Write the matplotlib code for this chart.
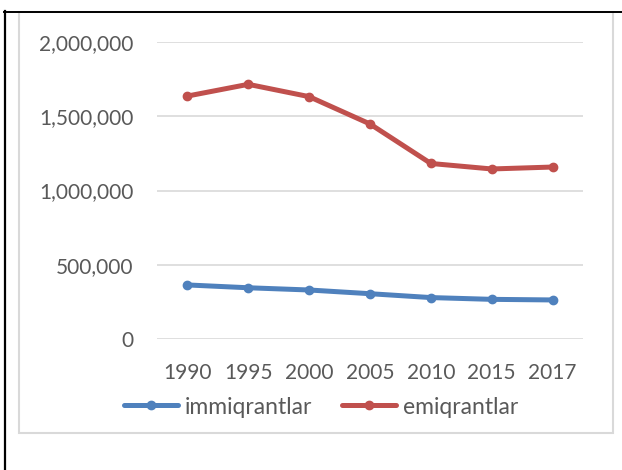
import matplotlib
matplotlib.use("Agg")
import matplotlib.pyplot as plt
from matplotlib.lines import Line2D
from matplotlib.patches import Rectangle
from matplotlib.ticker import FuncFormatter

# data
years = ['1990', '1995', '2000', '2005', '2010', '2015', '2017']
immigrants = [364000, 345000, 330000, 305000, 279000, 267000, 263000]
emigrants = [1636000, 1715000, 1632000, 1448000, 1182000, 1145000, 1158000]
series_names = ['immiqrantlar', 'emiqrantlar']

plt.rcParams['font.family'] = ['Lato', 'DejaVu Sans']
text_col = '#595959'

fig = plt.figure(figsize=(6.22, 4.70), dpi=100)
ax = fig.add_axes([157 / 622, 1 - 339 / 470, (583 - 157) / 622, (339 - 42) / 470])

x = range(len(years))
ax.plot(x, immigrants, color='#4F81BD', lw=3.6, marker='o', ms=6,
        solid_capstyle='round', label=series_names[0])
ax.plot(x, emigrants, color='#C0504D', lw=3.6, marker='o', ms=6,
        solid_capstyle='round', label=series_names[1])

ax.set_xlim(-0.5, len(years) - 0.5)
ax.set_ylim(0, 2000000)
ax.set_yticks([0, 500000, 1000000, 1500000, 2000000])
ax.yaxis.set_major_formatter(FuncFormatter(lambda v, p: '{:,.0f}'.format(v)))
ax.set_xticks(list(x))
ax.set_xticklabels(years)
ax.grid(axis='y', color='#D9D9D9', lw=1.2)
ax.set_axisbelow(True)
for s in ax.spines.values():
    s.set_visible(False)
ax.tick_params(axis='both', length=0, labelsize=15, colors=text_col)
ax.tick_params(axis='x', pad=17)
ax.tick_params(axis='y', pad=17)

leg = fig.legend(loc='center', bbox_to_anchor=(321 / 622, 1 - 407 / 470),
                 ncol=2, frameon=False, fontsize=16.5, handlelength=2.35,
                 handletextpad=0.3, columnspacing=1.3)
for t in leg.get_texts():
    t.set_color(text_col)

# chart area border and outer black frame
fig.add_artist(Rectangle((19 / 622, 1 - 433 / 470), (613 - 19) / 622, (433 - 12) / 470,
                         transform=fig.transFigure, fill=False, ec='#D9D9D9', lw=1.5))
fig.add_artist(Line2D([5 / 622, 5 / 622], [0, 1 - 11 / 470], transform=fig.transFigure,
                      color='black', lw=1.6))
fig.add_artist(Line2D([4 / 622, 1], [1 - 11.5 / 470, 1 - 11.5 / 470], transform=fig.transFigure,
                      color='black', lw=1.4))

fig.savefig('out.png', dpi=100)
